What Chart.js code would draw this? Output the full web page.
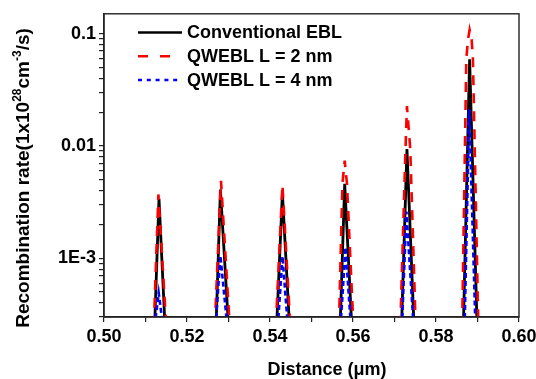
<!DOCTYPE html>
<html>
<head>
<meta charset="utf-8">
<script src="https://cdn.jsdelivr.net/npm/chart.js@4.4.1/dist/chart.umd.min.js"></script>
<style>
  html, body { margin: 0; padding: 0; background: #fff; }
</style>
</head>
<body>
<canvas id="chart" width="536" height="379"></canvas>
<script>
const seriesLabels = ['Conventional EBL', 'QWEBL L = 2 nm', 'QWEBL L = 4 nm'];
const seriesColors = ['#000000', '#ff0000', '#0000ff'];

// distance (um) and rate per series, null breaks the line between wells
const convX = [0.5122, 0.51325, 0.5147, 0.520, 0.5270, 0.52805, 0.5300, 0.535, 0.5416, 0.54299, 0.5447, 0.550,
  0.5569, 0.5580, 0.5597, 0.565, 0.5717, 0.5730, 0.5747, 0.580, 0.5866, 0.5881, 0.5899];
const convY = [2.5e-4, 0.0034, 2.5e-4, null, 2.5e-4, 0.0041, 2.5e-4, null, 2.5e-4, 0.0038, 2.5e-4, null,
  2.5e-4, 0.0046, 2.5e-4, null, 2.5e-4, 0.0094, 2.5e-4, null, 2.5e-4, 0.059, 2.5e-4];

const qw2X = [0.5120, 0.51311, 0.5150, 0.520, 0.5267, 0.52819, 0.5303, 0.535, 0.5414, 0.5430, 0.5449, 0.550,
  0.5566, 0.55745, 0.5580, 0.55855, 0.5601, 0.565, 0.5714, 0.57265, 0.5730, 0.5738, 0.5751, 0.580,
  0.5863, 0.5873, 0.5877, 0.5881, 0.5886, 0.5889, 0.5902];
const qw2Y = [2.5e-4, 0.0037, 2.5e-4, null, 2.5e-4, 0.0049, 2.5e-4, null, 2.5e-4, 0.0045, 2.5e-4, null,
  2.5e-4, 0.0046, 0.0074, 0.0046, 2.5e-4, null, 2.5e-4, 0.0094, 0.0226, 0.0094, 2.5e-4, null,
  2.5e-4, 0.059, 0.088, 0.108, 0.088, 0.059, 2.5e-4];

const qw4X = [0.5122, 0.51318, 0.5142, 0.520, 0.5269, 0.52805, 0.5297, 0.535, 0.5419, 0.5430, 0.5443, 0.550,
  0.5570, 0.5582, 0.5595, 0.565, 0.5718, 0.57287, 0.5746, 0.580, 0.5869, 0.5880, 0.5895];
const qw4Y = [2.5e-4, 4.9e-4, 2.5e-4, null, 2.5e-4, 1.05e-3, 2.5e-4, null, 2.5e-4, 1.04e-3, 2.5e-4, null,
  2.5e-4, 1.25e-3, 2.5e-4, null, 2.5e-4, 0.0026, 2.5e-4, null, 2.5e-4, 0.0212, 2.5e-4];

const yMajorTicks = [0.001, 0.01, 0.1];
const yMajorLabels = ['1E-3', '0.01', '0.1'];
const xMajorTicks = [0.50, 0.52, 0.54, 0.56, 0.58, 0.60];

const FONT = '"Liberation Sans", Arial, sans-serif';
const chartDash = [[], [10, 8], [5, 3]];
const legendDash = [[], [10, 12], [4, 4.8]];
const lineWidths = [2.8, 2.6, 2.6];

const toPoints = (xs, ys) => xs.map((x, i) => ({ x: x, y: ys[i] }));

// box, legend and the two axis titles
const decorations = {
  id: 'decorations',
  afterDatasetsDraw(chart) {
    const { ctx, chartArea: a } = chart;
    ctx.save();
    ctx.strokeStyle = '#222';
    ctx.lineWidth = 1.4;
    ctx.strokeRect(a.left, a.top, a.right - a.left, a.bottom - a.top);
    ctx.restore();
  },
  afterDraw(chart) {
    const ctx = chart.ctx;
    ctx.save();
    ctx.fillStyle = '#000';

    // legend
    ctx.font = `bold 18px ${FONT}`;
    ctx.textBaseline = 'middle';
    chart.data.datasets.forEach((ds, i) => {
      const y = 32.5 + i * 23.8;
      ctx.beginPath();
      ctx.setLineDash(legendDash[i]);
      ctx.strokeStyle = ds.borderColor;
      ctx.lineWidth = 2.5;
      ctx.moveTo(138, y);
      ctx.lineTo(182, y);
      ctx.stroke();
      ctx.fillText(ds.label, 187, y + 1);
    });
    ctx.setLineDash([]);

    // x title
    ctx.textAlign = 'center';
    ctx.fillText('Distance (\u03bcm)', 327, 370);

    // y title with superscripts
    ctx.translate(22, 178);
    ctx.rotate(-Math.PI / 2);
    ctx.textAlign = 'left';
    ctx.textBaseline = 'alphabetic';
    const parts = [
      ['Recombination rate(1x10', 19, 0],
      ['28', 12, -8],
      ['cm', 19, 0],
      ['-3', 12, -8],
      ['/s)', 19, 0]
    ];
    let total = 0;
    parts.forEach(p => { ctx.font = `bold ${p[1]}px ${FONT}`; total += ctx.measureText(p[0]).width; });
    let x = -total / 2;
    parts.forEach(p => {
      ctx.font = `bold ${p[1]}px ${FONT}`;
      ctx.fillText(p[0], x, 7 + p[2]);
      x += ctx.measureText(p[0]).width;
    });
    ctx.restore();
  }
};

new Chart(document.getElementById('chart'), {
  type: 'line',
  data: {
    datasets: [
      { label: seriesLabels[0], data: toPoints(convX, convY), order: 3 },
      { label: seriesLabels[1], data: toPoints(qw2X, qw2Y), order: 2 },
      { label: seriesLabels[2], data: toPoints(qw4X, qw4Y), order: 1 }
    ].map((ds, i) => Object.assign(ds, {
      borderColor: seriesColors[i],
      borderWidth: lineWidths[i],
      borderDash: chartDash[i],
      pointRadius: 0,
      tension: 0,
      fill: false
    }))
  },
  options: {
    responsive: false,
    animation: false,
    devicePixelRatio: 1,
    layout: { padding: { top: 12, right: 17, left: 0, bottom: 0 } },
    plugins: { legend: { display: false }, tooltip: { enabled: false } },
    scales: {
      x: {
        type: 'linear',
        min: 0.5,
        max: 0.6,
        afterFit: s => { s.height = 62; s.paddingRight = 0; },
        border: { color: '#222', width: 1.4 },
        grid: { drawOnChartArea: false, drawTicks: true, tickLength: 5, color: '#222', lineWidth: 1.2 },
        ticks: {
          stepSize: 0.01,
          autoSkip: false,
          maxRotation: 0,
          padding: 4,
          color: '#000',
          font: { family: FONT, size: 18, weight: 'bold' },
          callback: v => {
            const hit = xMajorTicks.find(t => Math.abs(t - v) < 1e-6);
            return hit === undefined ? '' : hit.toFixed(2);
          }
        }
      },
      y: {
        type: 'logarithmic',
        min: 3e-4,
        max: 0.15,
        afterFit: s => { s.width = 104; },
        afterBuildTicks: s => {
          const ticks = [];
          [1e-4].concat(yMajorTicks).forEach(d => {
            for (let k = 1; k <= 9; k++) {
              const v = k * d;
              if (v >= s.min && v <= s.max) ticks.push({ value: v });
            }
          });
          s.ticks = ticks;
        },
        border: { color: '#222', width: 1.4 },
        grid: { drawOnChartArea: false, drawTicks: true, tickLength: 5, color: '#222', lineWidth: 1.2 },
        ticks: {
          autoSkip: false,
          padding: 3,
          color: '#000',
          font: { family: FONT, size: 18, weight: 'bold' },
          callback: v => {
            const i = yMajorTicks.findIndex(t => Math.abs(Math.log10(t) - Math.log10(v)) < 1e-6);
            return i < 0 ? '' : yMajorLabels[i];
          }
        }
      }
    }
  },
  plugins: [decorations]
});
</script>
</body>
</html>
